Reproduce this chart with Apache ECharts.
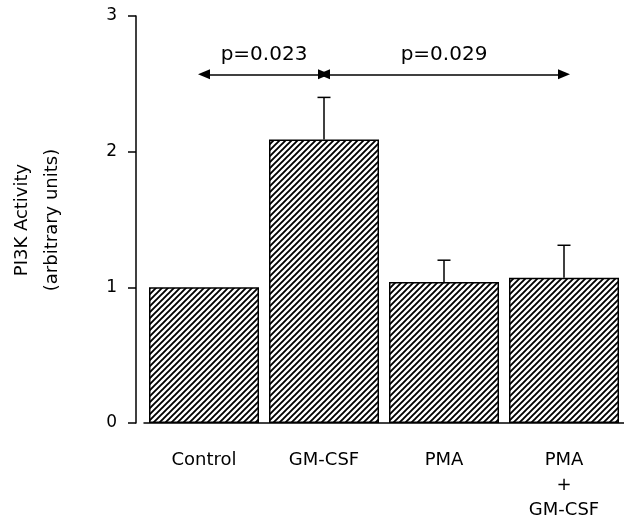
<!DOCTYPE html>
<html>
<head>
<meta charset="utf-8">
<script src="https://cdn.jsdelivr.net/npm/echarts@6/dist/echarts.min.js"></script>
<style>
	html, body { margin: 0; padding: 0; background: #fff; }
	#chart { width: 624px; height: 523px; }
</style>
</head>
<body>
<div id="chart"></div>
<script>
var categories = ['Control', 'GM-CSF', 'PMA', 'PMA\n+\nGM-CSF'];
var activity = [1.00, 2.09, 1.04, 1.07];
var sem = [0, 0.31, 0.16, 0.24];
var yMin = 0, yMax = 3, yStep = 1;
var arrowLevel = 2.57;
var comparisons = [
	{ from: 0, to: 1, label: 'p=0.023' },
	{ from: 1, to: 3, label: 'p=0.029' }
];

var FONT = 'DejaVu Sans';

// diagonal hatch tile
function hatch() {
	var s = 6;
	var c = document.createElement('canvas');
	c.width = s; c.height = s;
	var ctx = c.getContext('2d');
	ctx.fillStyle = '#fff';
	ctx.fillRect(0, 0, s, s);
	ctx.strokeStyle = '#000';
	ctx.lineWidth = 1.9;
	ctx.beginPath();
	ctx.moveTo(-1, s + 1); ctx.lineTo(s + 1, -1);
	ctx.moveTo(-1, 1); ctx.lineTo(1, -1);
	ctx.moveTo(s - 1, s + 1); ctx.lineTo(s + 1, s - 1);
	ctx.stroke();
	return c;
}

var errData = activity.map(function(v, i) {
	return [i, v, v + sem[i]];
});

var lineData = comparisons.map(function(c) {
	return [
		{ coord: [c.from, arrowLevel], name: c.label },
		{ coord: [c.to, arrowLevel] }
	];
});

var myChart = echarts.init(document.getElementById('chart'));

var option = {
	animation: false,
	grid: { left: 144, right: 0, top: 16, bottom: 99 },
	xAxis: {
		type: 'category',
		data: categories,
		axisLine: { lineStyle: { color: '#000', width: 1.5 } },
		axisTick: { show: false },
		axisLabel: {
			color: '#000',
			fontSize: 18,
			fontFamily: FONT,
			lineHeight: 25,
			margin: 25,
			interval: 0
		}
	},
	yAxis: {
		type: 'value',
		min: yMin,
		max: yMax,
		interval: yStep,
		offset: 8,
		splitLine: { show: false },
		axisLine: { show: true, lineStyle: { color: '#000', width: 1.5 } },
		axisTick: { show: true, length: 8, lineStyle: { color: '#000', width: 1.5 } },
		axisLabel: { color: '#000', fontSize: 17, fontFamily: FONT, margin: 19 }
	},
	graphic: [{
		type: 'text',
		x: 37,
		y: 220,
		rotation: Math.PI / 2,
		style: {
			text: 'PI3K Activity\n(arbitrary units)',
			fill: '#000',
			fontSize: 18,
			fontFamily: FONT,
			align: 'center',
			verticalAlign: 'middle',
			lineHeight: 30
		}
	}],
	series: [
		{
			type: 'bar',
			data: activity,
			barWidth: 110,
			itemStyle: {
				color: { image: hatch(), repeat: 'repeat' },
				borderColor: '#000',
				borderWidth: 1.5
			},
			emphasis: { disabled: true },
			markLine: {
				silent: true,
				symbol: ['triangle', 'triangle'],
				symbolSize: [10, 12],
				lineStyle: { color: '#000', width: 1.5, type: 'solid' },
				label: {
					show: true,
					position: 'middle',
					formatter: '{b}',
					color: '#000',
					fontSize: 20,
					fontFamily: FONT,
					distance: 10
				},
				data: lineData
			}
		},
		{
			type: 'custom',
			data: errData,
			z: 5,
			renderItem: function(params, api) {
				var x = api.value(0);
				var base = api.coord([x, api.value(1)]);
				var top = api.coord([x, api.value(2)]);
				if (api.value(2) <= api.value(1)) return;
				var style = { stroke: '#000', lineWidth: 1.5 };
				return {
					type: 'group',
					children: [
						{ type: 'line', shape: { x1: base[0], y1: base[1], x2: top[0], y2: top[1] }, style: style },
						{ type: 'line', shape: { x1: top[0] - 6.5, y1: top[1], x2: top[0] + 6.5, y2: top[1] }, style: style }
					]
				};
			}
		}
	]
};

myChart.setOption(option);
</script>
</body>
</html>
